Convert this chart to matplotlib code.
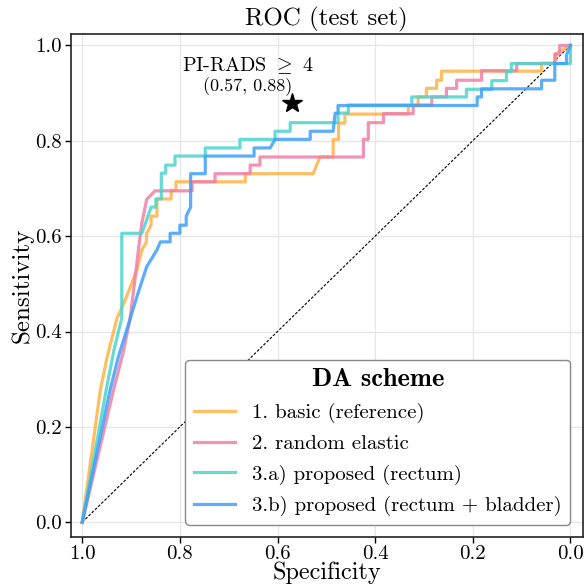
import matplotlib
matplotlib.use("Agg")
import matplotlib.pyplot as plt

plt.rcParams['font.family'] = 'serif'
plt.rcParams['font.serif'] = ['cmr10']
plt.rcParams['mathtext.fontset'] = 'cm'
plt.rcParams['axes.formatter.use_mathtext'] = True

# ROC curves (specificity, sensitivity)
spec_basic = [1.0, 0.963, 0.949, 0.929, 0.912, 0.888, 0.878, 0.869, 0.868, 0.859, 0.859, 0.847, 0.847,
              0.818, 0.818, 0.808, 0.808, 0.666, 0.666, 0.527, 0.513, 0.486, 0.486, 0.475, 0.475,
              0.462, 0.462, 0.332, 0.332, 0.312, 0.312, 0.295, 0.295, 0.274, 0.274, 0.264, 0.264,
              0.059, 0.059, 0.030, 0.030, 0.0]
sens_basic = [0.0, 0.277, 0.347, 0.427, 0.466, 0.529, 0.571, 0.586, 0.606, 0.623, 0.642, 0.642, 0.678,
              0.678, 0.696, 0.696, 0.714, 0.714, 0.731, 0.731, 0.766, 0.766, 0.803, 0.803, 0.837,
              0.837, 0.856, 0.856, 0.874, 0.874, 0.892, 0.892, 0.910, 0.910, 0.927, 0.927, 0.946,
              0.946, 0.963, 0.963, 0.982, 1.0]

spec_elastic = [1.0, 0.936, 0.915, 0.902, 0.893, 0.885, 0.878, 0.868, 0.851, 0.775, 0.775, 0.728, 0.728,
                0.656, 0.656, 0.636, 0.636, 0.424, 0.424, 0.414, 0.414, 0.383, 0.383, 0.322, 0.322,
                0.284, 0.284, 0.254, 0.254, 0.233, 0.233, 0.182, 0.182, 0.110, 0.110, 0.032, 0.032,
                0.022, 0.022, 0.0]
sens_elastic = [0.0, 0.277, 0.361, 0.427, 0.501, 0.571, 0.627, 0.677, 0.695, 0.695, 0.714, 0.714, 0.731,
                0.731, 0.749, 0.749, 0.766, 0.766, 0.803, 0.803, 0.838, 0.838, 0.857, 0.857, 0.875,
                0.875, 0.892, 0.892, 0.910, 0.910, 0.927, 0.927, 0.947, 0.947, 0.962, 0.962, 0.982,
                0.982, 1.0, 1.0]

spec_rectum = [1.0, 0.951, 0.935, 0.919, 0.919, 0.878, 0.868, 0.859, 0.849, 0.849, 0.838, 0.838, 0.829,
               0.829, 0.810, 0.810, 0.748, 0.748, 0.677, 0.677, 0.605, 0.605, 0.574, 0.574, 0.476,
               0.476, 0.455, 0.455, 0.325, 0.325, 0.213, 0.213, 0.161, 0.161, 0.131, 0.131, 0.121,
               0.121, 0.0, 0.0]
sens_rectum = [0.0, 0.277, 0.361, 0.428, 0.606, 0.606, 0.634, 0.661, 0.661, 0.678, 0.678, 0.732, 0.732,
               0.749, 0.749, 0.768, 0.768, 0.785, 0.785, 0.803, 0.803, 0.820, 0.820, 0.838, 0.838,
               0.858, 0.858, 0.875, 0.875, 0.892, 0.892, 0.908, 0.908, 0.926, 0.926, 0.945, 0.945,
               0.962, 0.962, 1.0]

spec_bladder = [1.0, 0.943, 0.926, 0.909, 0.888, 0.868, 0.847, 0.840, 0.820, 0.820, 0.800, 0.800, 0.787,
                0.787, 0.778, 0.778, 0.748, 0.748, 0.648, 0.648, 0.615, 0.605, 0.533, 0.533, 0.486,
                0.482, 0.476, 0.476, 0.191, 0.191, 0.182, 0.182, 0.059, 0.059, 0.032, 0.032, 0.008,
                0.008, 0.0]
sens_bladder = [0.0, 0.277, 0.347, 0.403, 0.473, 0.536, 0.571, 0.588, 0.588, 0.606, 0.606, 0.623, 0.623,
                0.642, 0.661, 0.731, 0.731, 0.768, 0.768, 0.785, 0.785, 0.803, 0.803, 0.820, 0.820,
                0.858, 0.858, 0.874, 0.874, 0.892, 0.892, 0.909, 0.909, 0.927, 0.927, 0.962, 0.962,
                0.980, 1.0]

labels = ['1. basic (reference)', '2. random elastic',
          '3.a) proposed (rectum)', '3.b) proposed (rectum + bladder)']
colors = ['#FFB347', '#F07FA8', '#4DD4CC', '#3FA0FA']

pirads_spec, pirads_sens = 0.57, 0.88

fig = plt.figure(figsize=(5.84, 5.86), dpi=100)
ax = fig.add_axes([0.1216, 0.0836, 0.876, 0.8584])

curves = [(spec_basic, sens_basic), (spec_elastic, sens_elastic),
          (spec_rectum, sens_rectum), (spec_bladder, sens_bladder)]
for (sx, sy), lab, col in zip(curves, labels, colors):
    ax.plot(sx, sy, color=col, lw=2.3, alpha=0.85, label=lab, zorder=3)

ax.plot([1, 0], [0, 1], color='black', ls='--', lw=0.8, dashes=(2.5, 1.5), zorder=2)

ax.plot(pirads_spec, pirads_sens, marker='*', color='black', ms=15, ls='none', zorder=4)
ax.text(0.661, 0.957, r'PI-RADS $\geq$ 4', ha='center', va='center', fontsize=14.5)
ax.text(0.661, 0.913, '(%.2f, %.2f)' % (pirads_spec, pirads_sens), ha='center', va='center',
        fontsize=13)

ax.set_xlim(1.023, -0.025)
ax.set_ylim(-0.031, 1.024)
ax.set_xticks([1.0, 0.8, 0.6, 0.4, 0.2, 0.0])
ax.set_yticks([0.0, 0.2, 0.4, 0.6, 0.8, 1.0])
ax.set_xticklabels(['1.0', '0.8', '0.6', '0.4', '0.2', '0.0'])
ax.set_yticklabels(['0.0', '0.2', '0.4', '0.6', '0.8', '1.0'])
ax.tick_params(labelsize=15, direction='out', length=4, width=1, pad=2.5)
ax.tick_params(axis='x', pad=1.5)
ax.grid(True, color='#e6e6e6', lw=0.9, zorder=0)
ax.set_axisbelow(True)
for s in ax.spines.values():
    s.set_color('#222222')
    s.set_linewidth(1.2)

ax.set_xlabel('Specificity', fontsize=17.5)
ax.xaxis.set_label_coords(0.5, -0.049)
ax.set_ylabel('Sensitivity', fontsize=18)
ax.yaxis.set_label_coords(-0.074, 0.5)
ax.set_title('ROC (test set)', fontsize=18, pad=6)

leg = ax.legend(loc='lower right', fontsize=15, title='DA scheme', frameon=True,
                fancybox=True, framealpha=1.0, edgecolor='#888888', borderaxespad=0.6,
                handlelength=2.0, labelspacing=0.55)
leg.get_title().set_fontfamily('cmb10')
leg.get_title().set_fontsize(19)

fig.savefig('out.png', dpi=100)
